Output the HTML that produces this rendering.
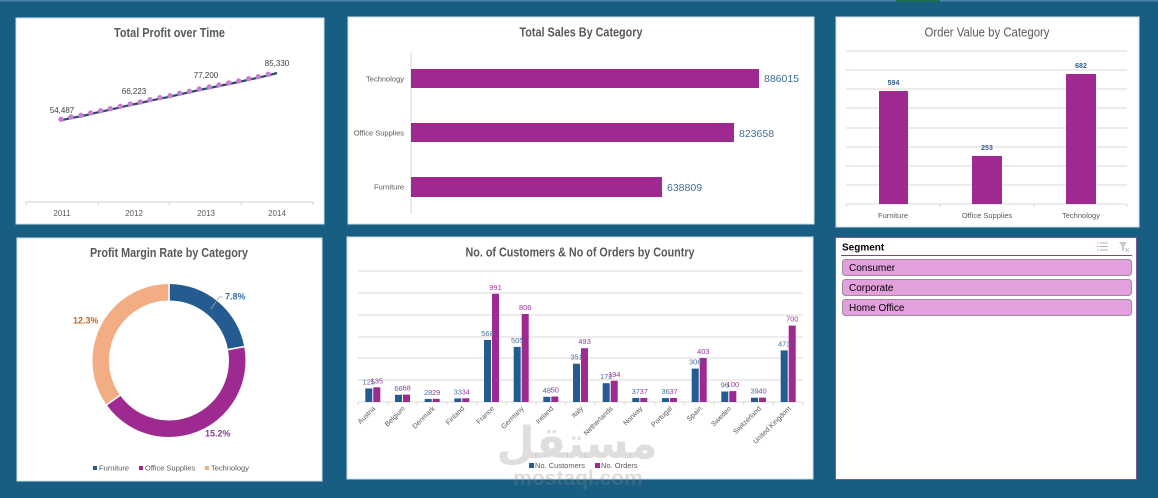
<!DOCTYPE html>
<html>
<head>
<meta charset="utf-8">
<style>
  html,body{margin:0;padding:0;background:#185e83;}
  svg{display:block;}
  text{font-family:"Liberation Sans","DejaVu Sans",sans-serif;}
</style>
</head>
<body>
<svg width="1158" height="498" viewBox="0 0 1158 498" xmlns="http://www.w3.org/2000/svg">
  <rect x="0" y="0" width="1158" height="498" fill="#185e83"/>
  <rect x="0" y="0" width="1158" height="1.5" fill="#4a82a3"/>
  <rect x="896" y="0" width="44" height="2" fill="#1f6b50"/>

  <!-- Panel 1: Total Profit over Time -->
  <rect x="16" y="18" width="308" height="206" fill="#ffffff" stroke="#cfdde8" stroke-width="1"/>
  <text x="169.5" y="37" text-anchor="middle" font-size="12.5" font-weight="bold" fill="#595959" textLength="111" lengthAdjust="spacingAndGlyphs">Total Profit over Time</text>
  <line x1="26" y1="202" x2="313" y2="202" stroke="#d0d0d0" stroke-width="1"/>
  <g stroke="#d0d0d0" stroke-width="1">
    <line x1="26" y1="202" x2="26" y2="205"/>
    <line x1="98" y1="202" x2="98" y2="205"/>
    <line x1="169" y1="202" x2="169" y2="205"/>
    <line x1="241" y1="202" x2="241" y2="205"/>
    <line x1="313" y1="202" x2="313" y2="205"/>
  </g>
  <g font-size="8" fill="#595959" text-anchor="middle">
    <text x="62" y="216">2011</text>
    <text x="134" y="216">2012</text>
    <text x="206" y="216">2013</text>
    <text x="277" y="216">2014</text>
  </g>
  <polyline fill="none" stroke="#2b4a6b" stroke-width="2.2" stroke-linejoin="round"
    points="61,120.3 71,118 81,116.3 90.7,114 100.7,111.7 110.3,109.7 120.3,107.3 130.3,105 140.3,103 150,100.7 160,98.7 170,96.7 179.7,94.3 189.3,92.3 199.3,90 209.3,88 219,86 228.7,84 238.7,82 248.7,79.7 258.3,77.7 268.3,75.3 277,73"/>
  <g fill="#c77fd1">
    <circle cx="61" cy="119.3" r="2.7"/><circle cx="71" cy="117" r="2.7"/><circle cx="81" cy="115.3" r="2.7"/>
    <circle cx="90.7" cy="113" r="2.7"/><circle cx="100.7" cy="110.7" r="2.7"/><circle cx="110.3" cy="108.7" r="2.7"/>
    <circle cx="120.3" cy="106.3" r="2.7"/><circle cx="130.3" cy="104" r="2.7"/><circle cx="140.3" cy="102" r="2.7"/>
    <circle cx="150" cy="99.7" r="2.7"/><circle cx="160" cy="97.7" r="2.7"/><circle cx="170" cy="95.7" r="2.7"/>
    <circle cx="179.7" cy="93.3" r="2.7"/><circle cx="189.3" cy="91.3" r="2.7"/><circle cx="199.3" cy="89" r="2.7"/>
    <circle cx="209.3" cy="87" r="2.7"/><circle cx="219" cy="85" r="2.7"/><circle cx="228.7" cy="83" r="2.7"/>
    <circle cx="238.7" cy="81" r="2.7"/><circle cx="248.7" cy="78.7" r="2.7"/><circle cx="258.3" cy="76.7" r="2.7"/>
    <circle cx="268.3" cy="74.3" r="2.7"/>
  </g>
  <g font-size="8" fill="#404040" text-anchor="middle">
    <text x="62" y="113">54,487</text>
    <text x="134" y="94">66,223</text>
    <text x="206" y="78">77,200</text>
    <text x="277" y="66">85,330</text>
  </g>

  <!-- Panel 2: Total Sales By Category -->
  <rect x="348" y="17" width="466" height="207" fill="#ffffff" stroke="#cfdde8" stroke-width="1"/>
  <text x="581" y="36.5" text-anchor="middle" font-size="12.5" font-weight="bold" fill="#595959" textLength="123" lengthAdjust="spacingAndGlyphs">Total Sales By Category</text>
  <line x1="411" y1="52" x2="411" y2="214" stroke="#d9d9d9" stroke-width="1"/>
  <g fill="#9e2a91">
    <rect x="411" y="69" width="348" height="19"/>
    <rect x="411" y="123" width="323" height="19"/>
    <rect x="411" y="177" width="251" height="20"/>
  </g>
  <g font-size="10.5" fill="#3e6f9c">
    <text x="764" y="82">886015</text>
    <text x="739" y="137">823658</text>
    <text x="667" y="191">638809</text>
  </g>
  <g font-size="7.5" fill="#595959" text-anchor="end">
    <text x="404" y="81.5">Technology</text>
    <text x="404" y="135.5">Office Supplies</text>
    <text x="404" y="189.5">Furniture</text>
  </g>

  <!-- Panel 3: Order Value by Category -->
  <rect x="836" y="17" width="303" height="210" fill="#ffffff" stroke="#cfdde8" stroke-width="1"/>
  <text x="987" y="36.5" text-anchor="middle" font-size="12.5" fill="#595959" textLength="125" lengthAdjust="spacingAndGlyphs">Order Value by  Category</text>
  <g stroke="#d9d9d9" stroke-width="1">
    <line x1="846" y1="51" x2="1127" y2="51"/>
    <line x1="846" y1="70" x2="1127" y2="70"/>
    <line x1="846" y1="89" x2="1127" y2="89"/>
    <line x1="846" y1="108" x2="1127" y2="108"/>
    <line x1="846" y1="128" x2="1127" y2="128"/>
    <line x1="846" y1="147" x2="1127" y2="147"/>
    <line x1="846" y1="166" x2="1127" y2="166"/>
    <line x1="846" y1="185" x2="1127" y2="185"/>
    <line x1="846" y1="204" x2="1127" y2="204"/>
    <line x1="846" y1="204" x2="846" y2="207"/>
    <line x1="940" y1="204" x2="940" y2="207"/>
    <line x1="1034" y1="204" x2="1034" y2="207"/>
    <line x1="1127" y1="204" x2="1127" y2="207"/>
  </g>
  <g fill="#9e2a91">
    <rect x="879" y="91" width="29" height="113"/>
    <rect x="972" y="156" width="30" height="48"/>
    <rect x="1066" y="74" width="30" height="130"/>
  </g>
  <g font-size="7" font-weight="bold" fill="#305e8e" text-anchor="middle">
    <text x="893.5" y="85">594</text>
    <text x="987" y="150">253</text>
    <text x="1081" y="68">682</text>
  </g>
  <g font-size="7.5" fill="#595959" text-anchor="middle">
    <text x="893" y="218">Furniture</text>
    <text x="987" y="218">Office Supplies</text>
    <text x="1081" y="218">Technology</text>
  </g>

  <!-- Panel 4: Profit Margin Rate by Category -->
  <rect x="17" y="238" width="305" height="243" fill="#ffffff" stroke="#cfdde8" stroke-width="1"/>
  <text x="169" y="257" text-anchor="middle" font-size="12.5" font-weight="bold" fill="#595959" textLength="158" lengthAdjust="spacingAndGlyphs">Profit Margin Rate by Category</text>
  <g transform="rotate(-90 169 360.5)" fill="none" stroke-width="16.5">
    <circle cx="169" cy="360.5" r="68.25" stroke="#245c91" stroke-dasharray="94.8 428.83" stroke-dashoffset="0"/>
    <circle cx="169" cy="360.5" r="68.25" stroke="#9e2a91" stroke-dasharray="184.6 428.83" stroke-dashoffset="-94.8"/>
    <circle cx="169" cy="360.5" r="68.25" stroke="#f3ad85" stroke-dasharray="149.43 428.83" stroke-dashoffset="-279.4"/>
  </g>
  <g stroke="#ffffff" stroke-width="1.6">
    <line x1="169" y1="301.5" x2="169" y2="283"/>
    <line x1="227" y1="349.8" x2="245.2" y2="346.4"/>
    <line x1="120.9" y1="394.7" x2="105.8" y2="405.4"/>
  </g>
  <polyline points="211,309 219,297 223,297" fill="none" stroke="#a6a6a6" stroke-width="0.8"/>
  <g font-size="9" font-weight="bold">
    <text x="225" y="299.5" fill="#3a6ea0">7.8%</text>
    <text x="205" y="436.5" fill="#8f3d98">15.2%</text>
    <text x="73" y="323.5" fill="#c0651e">12.3%</text>
  </g>
  <rect x="93" y="466" width="4" height="4" fill="#245c91"/>
  <rect x="139" y="466" width="4" height="4" fill="#9e2a91"/>
  <rect x="205" y="466" width="4" height="4" fill="#f3ad85"/>
  <g font-size="7.5" fill="#595959">
    <text x="99" y="470.5">Furniture</text>
    <text x="145" y="470.5">Office Supplies</text>
    <text x="211" y="470.5">Technology</text>
  </g>

  <!-- Panel 5: Customers & Orders by Country -->
  <rect x="347" y="237" width="466" height="242" fill="#ffffff" stroke="#cfdde8" stroke-width="1"/>
  <text x="580" y="256.5" text-anchor="middle" font-size="12.5" font-weight="bold" fill="#595959" textLength="229" lengthAdjust="spacingAndGlyphs">No. of Customers &amp; No of Orders by Country</text>
  <g stroke="#d9d9d9" stroke-width="1">
    <line x1="358" y1="271" x2="803" y2="271"/>
    <line x1="358" y1="293" x2="803" y2="293"/>
    <line x1="358" y1="315" x2="803" y2="315"/>
    <line x1="358" y1="337" x2="803" y2="337"/>
    <line x1="358" y1="358" x2="803" y2="358"/>
    <line x1="358" y1="380" x2="803" y2="380"/>
    <line x1="358" y1="402" x2="803" y2="402"/>
    <line x1="358" y1="402" x2="358" y2="405"/>
    <line x1="387.7" y1="402" x2="387.7" y2="405"/>
    <line x1="417.3" y1="402" x2="417.3" y2="405"/>
    <line x1="447" y1="402" x2="447" y2="405"/>
    <line x1="476.7" y1="402" x2="476.7" y2="405"/>
    <line x1="506.3" y1="402" x2="506.3" y2="405"/>
    <line x1="536" y1="402" x2="536" y2="405"/>
    <line x1="565.7" y1="402" x2="565.7" y2="405"/>
    <line x1="595.3" y1="402" x2="595.3" y2="405"/>
    <line x1="625" y1="402" x2="625" y2="405"/>
    <line x1="654.7" y1="402" x2="654.7" y2="405"/>
    <line x1="684.3" y1="402" x2="684.3" y2="405"/>
    <line x1="714" y1="402" x2="714" y2="405"/>
    <line x1="743.7" y1="402" x2="743.7" y2="405"/>
    <line x1="773.3" y1="402" x2="773.3" y2="405"/>
    <line x1="803" y1="402" x2="803" y2="405"/>
  </g>
  <g fill="#245c91">
    <rect x="365.3" y="388.4" width="7" height="13.6"/>
    <rect x="395" y="394.8" width="7" height="7.2"/>
    <rect x="424.7" y="398.9" width="7" height="3.1"/>
    <rect x="454.3" y="398.4" width="7" height="3.6"/>
    <rect x="484" y="340" width="7" height="62"/>
    <rect x="513.7" y="346.9" width="7" height="55.1"/>
    <rect x="543.3" y="396.8" width="7" height="5.2"/>
    <rect x="573" y="363.7" width="7" height="38.3"/>
    <rect x="602.7" y="383.2" width="7" height="18.8"/>
    <rect x="632.3" y="398" width="7" height="4"/>
    <rect x="662" y="398.1" width="7" height="3.9"/>
    <rect x="691.7" y="368.6" width="7" height="33.4"/>
    <rect x="721.3" y="391.5" width="7" height="10.5"/>
    <rect x="751" y="397.7" width="7" height="4.3"/>
    <rect x="780.7" y="350.4" width="7" height="51.6"/>
  </g>
  <g fill="#9e2a91">
    <rect x="373.3" y="387.3" width="7" height="14.7"/>
    <rect x="403" y="394.6" width="7" height="7.4"/>
    <rect x="432.7" y="398.8" width="7" height="3.2"/>
    <rect x="462.3" y="398.3" width="7" height="3.7"/>
    <rect x="492" y="293.8" width="7" height="108.2"/>
    <rect x="521.7" y="314" width="7" height="88"/>
    <rect x="551.3" y="396.5" width="7" height="5.5"/>
    <rect x="581" y="348.2" width="7" height="53.8"/>
    <rect x="610.7" y="380.8" width="7" height="21.2"/>
    <rect x="640.3" y="398" width="7" height="4"/>
    <rect x="670" y="398" width="7" height="4"/>
    <rect x="699.7" y="358" width="7" height="44"/>
    <rect x="729.3" y="391.1" width="7" height="10.9"/>
    <rect x="759" y="397.6" width="7" height="4.4"/>
    <rect x="788.7" y="325.6" width="7" height="76.4"/>
  </g>
  <g font-size="7.5" fill="#4a719c" text-anchor="middle">
    <text x="368.8" y="384.4">125</text>
    <text x="398.5" y="390.8">66</text>
    <text x="428.2" y="395">28</text>
    <text x="457.8" y="394.4">33</text>
    <text x="487.5" y="336">568</text>
    <text x="517.2" y="342.9">505</text>
    <text x="546.8" y="392.8">48</text>
    <text x="576.5" y="359.7">351</text>
    <text x="606.2" y="379.2">172</text>
    <text x="635.8" y="394">37</text>
    <text x="665.5" y="394.1">36</text>
    <text x="695.2" y="364.6">306</text>
    <text x="724.8" y="387.5">96</text>
    <text x="754.5" y="393.7">39</text>
    <text x="784.2" y="346.4">473</text>
  </g>
  <g font-size="7.5" fill="#9a3a9c" text-anchor="middle">
    <text x="376.8" y="383.3">135</text>
    <text x="406.5" y="390.6">68</text>
    <text x="436.2" y="394.8">29</text>
    <text x="465.8" y="394.3">34</text>
    <text x="495.5" y="289.8">991</text>
    <text x="525.2" y="310">806</text>
    <text x="554.8" y="392.5">50</text>
    <text x="584.5" y="344.2">493</text>
    <text x="614.2" y="376.8">194</text>
    <text x="643.8" y="394">37</text>
    <text x="673.5" y="394">37</text>
    <text x="703.2" y="354">403</text>
    <text x="732.8" y="387.1">100</text>
    <text x="762.5" y="393.6">40</text>
    <text x="792.2" y="321.6">700</text>
  </g>
  <g font-size="7" fill="#595959" text-anchor="end">
    <text transform="translate(375.8 409) rotate(-45)">Austria</text>
    <text transform="translate(405.5 409) rotate(-45)">Belgium</text>
    <text transform="translate(435.2 409) rotate(-45)">Denmark</text>
    <text transform="translate(464.8 409) rotate(-45)">Finland</text>
    <text transform="translate(494.5 409) rotate(-45)">France</text>
    <text transform="translate(524.2 409) rotate(-45)">Germany</text>
    <text transform="translate(553.8 409) rotate(-45)">Ireland</text>
    <text transform="translate(583.5 409) rotate(-45)">Italy</text>
    <text transform="translate(613.2 409) rotate(-45)">Netherlands</text>
    <text transform="translate(642.8 409) rotate(-45)">Norway</text>
    <text transform="translate(672.5 409) rotate(-45)">Portugal</text>
    <text transform="translate(702.2 409) rotate(-45)">Spain</text>
    <text transform="translate(731.8 409) rotate(-45)">Sweden</text>
    <text transform="translate(761.5 409) rotate(-45)">Switzerland</text>
    <text transform="translate(791.2 409) rotate(-45)">United Kingdom</text>
  </g>
  <!-- watermark -->
  <g fill="#8a8a8a" fill-opacity="0.28" text-anchor="middle">
    <text x="577" y="458" font-size="44" font-weight="bold" font-family="'DejaVu Sans',sans-serif">مستقل</text>
    <text x="578" y="485" font-size="21" font-weight="bold">mostaql.com</text>
  </g>
  <rect x="529" y="463" width="5" height="5" fill="#245c91"/>
  <rect x="595" y="463" width="5" height="5" fill="#9e2a91"/>
  <g font-size="7.5" fill="#595959">
    <text x="535" y="468">No. Customers</text>
    <text x="601" y="468">No. Orders</text>
  </g>

  <!-- Panel 6: Segment slicer -->
  <rect x="835.5" y="237.5" width="301" height="242" fill="#ffffff" stroke="#7a5a8e" stroke-width="1"/>
  <text x="842" y="250.5" font-size="10" font-weight="bold" fill="#000000">Segment</text>
  <g stroke="#b0b0b0" stroke-width="1">
    <line x1="1100" y1="243" x2="1108" y2="243"/>
    <line x1="1100" y1="246.5" x2="1108" y2="246.5"/>
    <line x1="1100" y1="250" x2="1108" y2="250"/>
    <line x1="1097" y1="243" x2="1098.5" y2="243"/>
    <line x1="1097" y1="246.5" x2="1098.5" y2="246.5"/>
    <line x1="1097" y1="250" x2="1098.5" y2="250"/>
  </g>
  <path d="M1119 242 L1127 242 L1124 246 L1124 250 L1122 251 L1122 246 Z" fill="#c8c8c8"/>
  <path d="M1125 248 L1129 252 M1129 248 L1125 252" stroke="#c8c8c8" stroke-width="1"/>
  <line x1="841" y1="255.5" x2="1132" y2="255.5" stroke="#6e4f7a" stroke-width="1"/>
  <g fill="#e2a0dc" stroke="#a0879f" stroke-width="1">
    <rect x="842.5" y="259.5" width="289" height="16" rx="3" ry="3"/>
    <rect x="842.5" y="279.5" width="289" height="16" rx="3" ry="3"/>
    <rect x="842.5" y="299.5" width="289" height="16" rx="3" ry="3"/>
  </g>
  <g font-size="10" fill="#000000">
    <text x="849" y="271">Consumer</text>
    <text x="849" y="291">Corporate</text>
    <text x="849" y="311">Home Office</text>
  </g>
</svg>
</body>
</html>
